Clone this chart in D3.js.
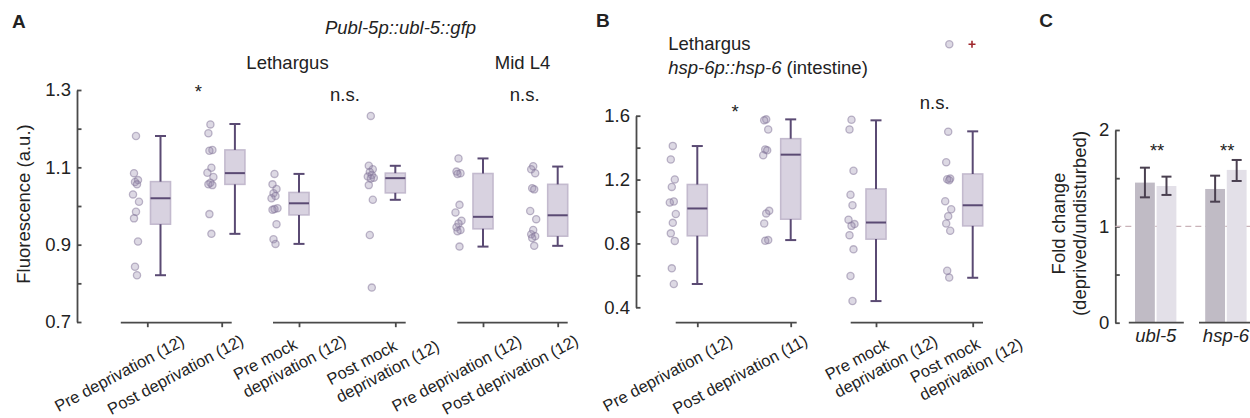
<!DOCTYPE html>
<html><head><meta charset="utf-8">
<script src="https://cdn.jsdelivr.net/npm/d3@7"></script>
<style>
body{margin:0;background:#fff}
svg{display:block}
text{font-family:"Liberation Sans",Arial,Helvetica,sans-serif;fill:#222}
</style>
</head><body>
<svg id="chart" width="1250" height="418"></svg>
<script>
// ---------------- DATA ----------------
// Panel A: Publ-5p::ubl-5::gfp
const categoriesA = ["Pre deprivation (12)", "Post deprivation (12)", "Pre mock\ndeprivation (12)", "Post mock\ndeprivation (12)", "Pre deprivation (12)", "Post deprivation (12)"];
const pointsA = [
  [1.181,1.085,1.067,1.062,1.056,1.030,1.011,0.985,0.968,0.908,0.843,0.821],
  [1.211,1.188,1.145,1.143,1.099,1.086,1.075,1.060,1.056,1.054,0.979,0.928],
  [1.083,1.056,1.044,1.033,1.026,1.020,0.994,0.992,0.990,0.953,0.914,0.902],
  [1.233,1.104,1.095,1.088,1.080,1.076,1.073,1.071,1.054,1.016,0.925,0.789],
  [1.123,1.089,1.085,1.083,1.003,0.983,0.962,0.955,0.945,0.938,0.935,0.895],
  [1.103,1.095,1.085,1.046,1.043,0.987,0.966,0.938,0.927,0.922,0.917,0.897]
];
const whiskerLoA = [0.821,0.928,0.902,1.016,0.895,0.897];
const q1A        = [0.953,1.056,0.977,1.034,0.941,0.922];
const medianA    = [1.020,1.085,1.007,1.072,0.972,0.976];
const q3A        = [1.063,1.145,1.035,1.085,1.084,1.056];
const whiskerHiA = [1.181,1.212,1.083,1.104,1.123,1.102];
const ticksA = [0.7,0.8,0.9,1.0,1.1,1.2,1.3];
const tickLabelsA = [0.7,0.9,1.1,1.3];

// Panel B: hsp-6p::hsp-6 (intestine)
const categoriesB = ["Pre deprivation (12)", "Post deprivation (11)", "Pre mock\ndeprivation (12)", "Post mock\ndeprivation (12)"];
const pointsB = [
  [1.411,1.326,1.201,1.154,1.063,1.056,0.984,0.929,0.863,0.816,0.644,0.546],
  [1.577,1.571,1.514,1.389,1.383,1.352,1.004,0.988,0.925,0.821,0.817],
  [1.575,1.514,1.255,1.105,1.039,0.949,0.921,0.910,0.852,0.763,0.596,0.439],
  [1.500,1.308,1.206,1.202,1.196,1.064,1.014,0.971,0.925,0.879,0.629,0.586]
];
const whiskerLoB = [0.546,0.821,0.439,0.585];
const q1B        = [0.848,0.952,0.827,0.910];
const medianB    = [1.019,1.356,0.931,1.039];
const q3B        = [1.169,1.456,1.141,1.235];
const whiskerHiB = [1.410,1.577,1.571,1.502];
const ticksB = [0.4,0.6,0.8,1.0,1.2,1.4,1.6];
const tickLabelsB = [0.4,0.8,1.2,1.6];

// Panel C: fold change
const genesC = ["ubl-5","hsp-6"];
const seriesC = ["s1","s2"];
const foldS1 = [1.454, 1.388];
const foldS2 = [1.419, 1.586];
const errLoS1 = [1.301, 1.256];
const errHiS1 = [1.609, 1.526];
const errLoS2 = [1.326, 1.471];
const errHiS2 = [1.516, 1.689];
const ticksC = [0,0.5,1,1.5,2];
const tickLabelsC = [0,1,2];

// ---------------- LAYOUT / STYLE ----------------
const svg = d3.select("#chart");
const FS = 18.5;
const LFS = 16.4;
const ROT = 28;
const AX = "#4a4a4a";
const WHISK = "#5a4a73";
const BOXFILL = "#d8d2e0", BOXSTROKE = "#c3bace";
const PTFILL = "rgba(150,136,172,0.32)", PTSTROKE = "rgba(130,116,152,0.5)";
const AXIS_Y = 322.7;
const jitter = [0,-2,2,-1,1,-3,3,0,-2,2,-1,1];

function yAxis(scale, x, ticks, labels, fmt) {
  const ax = d3.axisLeft(scale).tickValues(ticks).tickSizeInner(-4.5).tickSizeOuter(0).tickPadding(6)
    .tickFormat(d => labels.some(l => Math.abs(l - d) < 1e-9) ? fmt(d) : "");
  const g = svg.append("g").attr("transform", `translate(${x},0)`).call(ax);
  g.select(".domain").attr("stroke", AX).attr("stroke-width", 1.8);
  g.selectAll(".tick line").attr("stroke", AX).attr("stroke-width", 1.8);
  g.selectAll(".tick text").attr("font-size", FS).attr("fill", "#222")
    .attr("font-family", '"Liberation Sans",Arial,sans-serif');
  return g;
}

function groupAxis(cats, range, ext) {
  const sc = d3.scalePoint().domain(cats).range(range);
  const g = svg.append("g").attr("transform", `translate(0,${AXIS_Y})`)
    .call(d3.axisBottom(sc).tickSizeInner(4.5).tickSizeOuter(0).tickFormat(""));
  g.select(".domain").remove();
  g.selectAll(".tick line").attr("stroke", AX).attr("stroke-width", 1.8);
  g.append("line").attr("x1", range[0] + ext[0]).attr("x2", range[1] + ext[1])
    .attr("y1", 0).attr("y2", 0).attr("stroke", AX).attr("stroke-width", 1.8);
  return sc;
}

function rotLabel(text, x, y) {
  const lines = text.split("\n");
  const g = svg.append("g").attr("transform", `translate(${x},${y}) rotate(${-ROT})`);
  const last = g.append("text").attr("text-anchor", "end").attr("font-size", LFS).text(lines[lines.length - 1]);
  if (lines.length > 1) {
    const L = last.node().getComputedTextLength();
    g.append("text").attr("x", -L).attr("y", -20).attr("text-anchor", "start").attr("font-size", LFS).text(lines[0]);
  }
}

function boxGroup(yS, xTick, pts, lo, q1, md, q3, hi, shift) {
  const xs = xTick + shift - 24.5;
  const xb = xTick + shift;
  svg.append("g").selectAll("circle").data(pts).join("circle")
    .attr("cx", (d, i) => xs + jitter[i % jitter.length])
    .attr("cy", d => yS(d)).attr("r", 3.6)
    .attr("fill", PTFILL).attr("stroke", PTSTROKE).attr("stroke-width", 1.3);
  const g = svg.append("g");
  g.append("rect").attr("x", xb - 10).attr("width", 20)
    .attr("y", yS(q3)).attr("height", yS(q1) - yS(q3))
    .attr("fill", BOXFILL).attr("stroke", BOXSTROKE).attr("stroke-width", 1.6);
  const L = (x1, y1, x2, y2) => g.append("line").attr("x1", x1).attr("y1", y1).attr("x2", x2).attr("y2", y2)
    .attr("stroke", WHISK).attr("stroke-width", 2);
  L(xb, yS(q3), xb, yS(hi));
  L(xb, yS(q1), xb, yS(lo));
  L(xb - 5.5, yS(hi), xb + 5.5, yS(hi));
  L(xb - 5.5, yS(lo), xb + 5.5, yS(lo));
  L(xb - 10, yS(md), xb + 10, yS(md));
}

function txt(x, y, s, opts = {}) {
  const t = svg.append("text").attr("x", x).attr("y", y).attr("font-size", opts.size || FS)
    .attr("text-anchor", opts.anchor || "middle").text(s);
  if (opts.italic) t.attr("font-style", "italic");
  if (opts.bold) t.attr("font-weight", "bold");
  if (opts.rotate) t.attr("transform", `rotate(${opts.rotate},${x},${y})`);
  return t;
}

// ---------------- PANEL A ----------------
const yA = d3.scaleLinear().domain([0.7, 1.3]).range([322, 90]);
yAxis(yA, 77, ticksA, tickLabelsA, d3.format(".1f"));
const groupsA = [
  {idx: [0,1], range: [147.3, 221.7], ext: [-26.5, 10], shift: 13.2, dx: [38.3, 23.2], ey: [344.6, 344.2]},
  {idx: [2,3], range: [299, 395.3], ext: [-26, 10.4], shift: 0, dx: [48.3, 45.3], ey: [344.6, 349.6]},
  {idx: [4,5], range: [483, 557.7], ext: [-25.7, 10], shift: 0, dx: [39.9, 21.9], ey: [344.6, 344.2]}
];
groupsA.forEach(gr => {
  const cats = gr.idx.map(i => "A" + i);
  const sc = groupAxis(cats, gr.range, gr.ext);
  gr.idx.forEach((i, k) => {
    const xt = sc("A" + i);
    boxGroup(yA, xt, pointsA[i], whiskerLoA[i], q1A[i], medianA[i], q3A[i], whiskerHiA[i], gr.shift);
    rotLabel(categoriesA[i], xt + gr.dx[k], gr.ey[k]);
  });
});
txt(12, 27.7, "A", {anchor: "start", bold: true, size: 19});
txt(400.5, 33.5, "Publ-5p::ubl-5::gfp", {italic: true});
txt(287.5, 69, "Lethargus");
txt(522.5, 69, "Mid L4");
txt(198.3, 98, "*");
txt(345, 100.5, "n.s.");
txt(524.7, 100.5, "n.s.");
txt(30, 204, "Fluorescence (a.u.)", {rotate: -90});

// ---------------- PANEL B ----------------
const yB = d3.scaleLinear().domain([0.4, 1.6]).range([307.3, 115.7]);
yAxis(yB, 636, ticksB, tickLabelsB, d3.format(".1f"));
const groupsB = [
  {idx: [0,1], range: [697.3, 790.7], ext: [-21.6, 6], shift: 0, dx: [36.6, 18.2], ey: [344.6, 344.2]},
  {idx: [2,3], range: [876, 972.7], ext: [-25.3, 10.3], shift: 0, dx: [62.9, 51.2], ey: [344.6, 347.6]}
];
groupsB.forEach(gr => {
  const cats = gr.idx.map(i => "B" + i);
  const sc = groupAxis(cats, gr.range, gr.ext);
  gr.idx.forEach((i, k) => {
    const xt = sc("B" + i);
    boxGroup(yB, xt, pointsB[i], whiskerLoB[i], q1B[i], medianB[i], q3B[i], whiskerHiB[i], gr.shift);
    rotLabel(categoriesB[i], xt + gr.dx[k], gr.ey[k]);
  });
});
txt(596, 26.7, "B", {anchor: "start", bold: true, size: 19});
txt(668.3, 50, "Lethargus", {anchor: "start"});
const hs = svg.append("text").attr("x", 668.3).attr("y", 74).attr("font-size", FS).attr("text-anchor", "start");
hs.append("tspan").attr("font-style", "italic").text("hsp-6p::hsp-6");
hs.append("tspan").text(" (intestine)");
txt(735, 118, "*");
txt(934.7, 109, "n.s.");
// legend
svg.append("circle").attr("cx", 949.3).attr("cy", 44.3).attr("r", 3.6).attr("fill", PTFILL).attr("stroke", PTSTROKE).attr("stroke-width", 1.3);
svg.append("path").attr("d", "M968.5,44.3h7M972,40.8v7").attr("stroke", "#a0282d").attr("stroke-width", 1.6);

// ---------------- PANEL C ----------------
const yC = d3.scaleLinear().domain([0, 2]).range([322.7, 130]);
yAxis(yC, 1115.3, ticksC, tickLabelsC, d3.format("d"));
const xC = d3.scaleBand().domain(genesC).range([1120.7, 1261.1]).padding(0);
const xInner = d3.scaleBand().domain(seriesC).range([-20.8, 20.6]).paddingInner(0.08);
svg.append("line").attr("x1", 1115.3).attr("x2", 1250).attr("y1", yC(1)).attr("y2", yC(1))
  .attr("stroke", "#c9b3b9").attr("stroke-width", 1.3).attr("stroke-dasharray", "6,4");
const barColors = {s1: "#c0bbc5", s2: "#e3e0e8"};
const barData = genesC.flatMap((g, i) => [
  {g, s: "s1", v: foldS1[i], lo: errLoS1[i], hi: errHiS1[i]},
  {g, s: "s2", v: foldS2[i], lo: errLoS2[i], hi: errHiS2[i]}
]);
const cx = d => xC(d.g) + xC.bandwidth() / 2;
svg.append("g").selectAll("rect").data(barData).join("rect")
  .attr("x", d => cx(d) + xInner(d.s)).attr("width", xInner.bandwidth())
  .attr("y", d => yC(d.v)).attr("height", d => yC(0) - yC(d.v))
  .attr("fill", d => barColors[d.s]);
const eg = svg.append("g").attr("stroke", "#4a4050").attr("stroke-width", 2);
barData.forEach(d => {
  const x = cx(d) + xInner(d.s) + xInner.bandwidth() / 2;
  eg.append("line").attr("x1", x).attr("x2", x).attr("y1", yC(d.lo)).attr("y2", yC(d.hi));
  eg.append("line").attr("x1", x - 5).attr("x2", x + 5).attr("y1", yC(d.lo)).attr("y2", yC(d.lo));
  eg.append("line").attr("x1", x - 5).attr("x2", x + 5).attr("y1", yC(d.hi)).attr("y2", yC(d.hi));
});
genesC.forEach(g => {
  const c = xC(g) + xC.bandwidth() / 2;
  svg.append("line").attr("x1", c - 27).attr("x2", c + 28).attr("y1", AXIS_Y).attr("y2", AXIS_Y)
    .attr("stroke", AX).attr("stroke-width", 1.8);
  txt(c, 341.7, g, {italic: true});
  txt(c + 1.3, 157, "**");
});
txt(1039.3, 26.7, "C", {anchor: "start", bold: true, size: 19});
txt(1065, 223.5, "Fold change", {rotate: -90});
txt(1086, 223.5, "(deprived/undisturbed)", {rotate: -90});
</script>
</body></html>
